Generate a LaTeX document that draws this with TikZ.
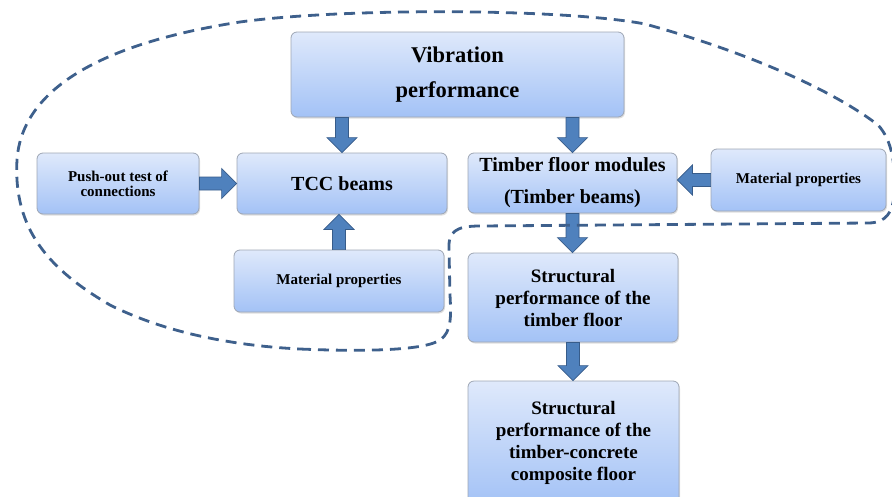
\documentclass[tikz,border=0pt]{standalone}
\usepackage{fontspec}
\setmainfont{Liberation Serif}
\usetikzlibrary{calc, shadows}

\definecolor{boxtop}{RGB}{223,233,251}
\definecolor{boxbottom}{RGB}{163,194,246}
\definecolor{boxline}{RGB}{158,166,180}
\definecolor{arrowfill}{RGB}{79,129,189}
\definecolor{arrowline}{RGB}{55,92,138}
\definecolor{groupcol}{RGB}{62,96,140}

\tikzset{
    flowbox/.style={draw=boxline, line width=0.8pt, rounded corners=6pt,
        top color=boxtop, bottom color=boxbottom, align=center, inner sep=2pt,
        drop shadow={opacity=0.25, shadow xshift=1pt, shadow yshift=-1.5pt}},
    blockarr/.style={fill=arrowfill, draw=arrowline, line width=0.7pt, line join=miter},
    groupline/.style={draw=groupcol, line width=2.8pt, dash pattern=on 11pt off 7pt}
}

% block arrow from #1 to #2 (tip at #2)
\newcommand{\blockarrow}[2]{%
    \coordinate (ah) at ($(#2)!15pt!(#1)$);
    \draw[blockarr] ($(#1)!6.5pt!90:(#2)$) -- ($(ah)!6.5pt!90:(#2)$) -- ($(ah)!15pt!90:(#2)$) -- (#2)
        -- ($(ah)!15pt!-90:(#2)$) -- ($(ah)!6.5pt!-90:(#2)$) -- ($(#1)!6.5pt!-90:(#2)$) -- cycle;
}

\begin{document}
\begin{tikzpicture}[x=1pt, y=-1pt]
    \useasboundingbox (0,0) rectangle (892,496);
    \clip (0,0) rectangle (892,496);

    % 1. Boxes
    \node[flowbox, minimum width=333pt, minimum height=85pt,
        font=\bfseries\fontsize{22.5}{35}\selectfont] (vib) at (457.5,74.5) {Vibration\\performance};
    \node[flowbox, minimum width=162pt, minimum height=61pt,
        font=\bfseries\fontsize{15}{15}\selectfont] (push) at (118,183.5) {Push-out test of\\connections};
    \node[flowbox, minimum width=210pt, minimum height=61pt,
        font=\bfseries\fontsize{20}{24}\selectfont] (tcc) at (342,183.5) {TCC beams};
    \node[flowbox, minimum width=210pt, minimum height=62pt,
        font=\bfseries\fontsize{15}{18}\selectfont] (matA) at (339,281) {Material properties};
    \node[flowbox, minimum width=209pt, minimum height=60pt,
        font=\bfseries\fontsize{20}{32}\selectfont] (timber) at (572.5,183) {Timber floor modules\\(Timber beams)};
    \node[flowbox, minimum width=175pt, minimum height=62pt,
        font=\bfseries\fontsize{15}{18}\selectfont] (matB) at (798.5,180) {Material properties};
    \node[flowbox, minimum width=210pt, minimum height=89pt,
        font=\bfseries\fontsize{19}{22}\selectfont] (strA) at (573,297.5) {Structural\\performance of the\\timber floor};
    \node[flowbox, minimum width=211pt, minimum height=124pt,
        font=\bfseries\fontsize{19}{22}\selectfont] (strB) at (573.5,443) {Structural\\performance of the\\timber-concrete\\composite floor};

    % 2. Block arrows
    \coordinate (v1) at (vib.south -| tcc.north);
    \coordinate (v2) at (vib.south -| timber.north);
    \coordinate (m1) at (tcc.south -| matA.north);
    \coordinate (m2) at (timber.east |- matB.west);
    \coordinate (s1) at (strA.north -| timber.south);
    \coordinate (s2) at (strB.north -| strA.south);
    \blockarrow{v1}{tcc.north}
    \blockarrow{v2}{timber.north}
    \blockarrow{push.east}{tcc.west}
    \blockarrow{matA.north}{m1}
    \blockarrow{matB.west}{m2}
    \blockarrow{timber.south}{s1}
    \blockarrow{strA.south}{s2}

    % 3. Dashed group outline
    \draw[groupline] (300,349) .. controls (370,352) and (425,350) .. (440,340)
        .. controls (452,332) and (451,315) .. (450,295) -- (449,250)
        .. controls (448,232) and (455,226) .. (480,226) -- (868,223)
        .. controls (886,223) and (893,212) .. (894,195)
        .. controls (896,165) and (892,140) .. (878,125)
        .. controls (830,88) and (740,50) .. (645,24)
        .. controls (560,8) and (340,8) .. (240,22)
        .. controls (110,42) and (22,85) .. (17,160)
        .. controls (13,230) and (50,270) .. (110,305)
        .. controls (170,335) and (240,346) .. (300,349);

\end{tikzpicture}
\end{document}
